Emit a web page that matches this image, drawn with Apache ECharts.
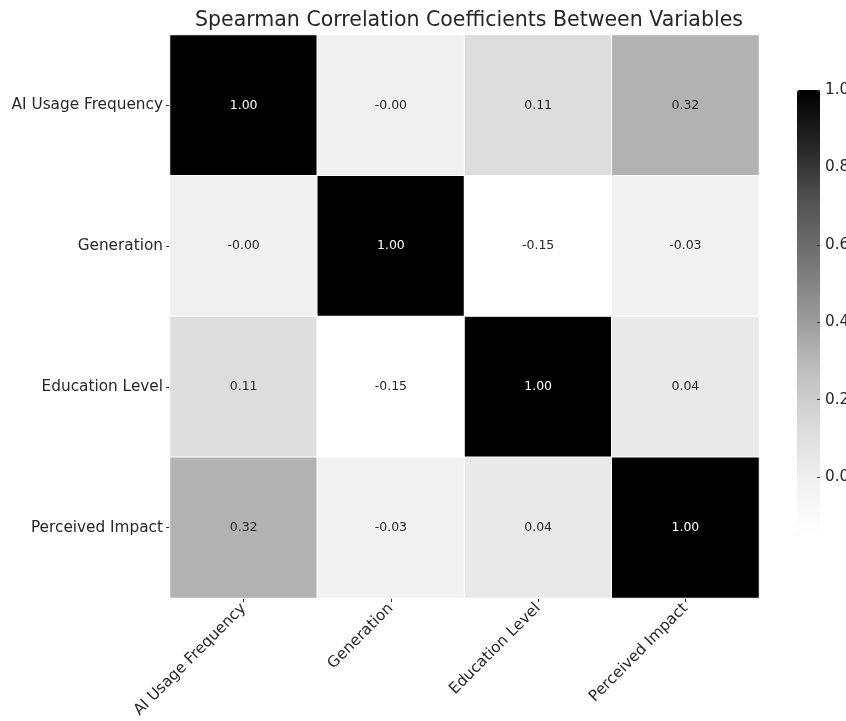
<!DOCTYPE html>
<html>
<head>
<meta charset="utf-8">
<script src="https://cdn.jsdelivr.net/npm/echarts@6/dist/echarts.min.js"></script>
<style>
  html, body { margin: 0; padding: 0; background: #fff; }
  #chart { width: 846px; height: 721px; }
</style>
</head>
<body>
<div id="chart"></div>
<script>
const variables = ["AI Usage Frequency", "Generation", "Education Level", "Perceived Impact"];
// correlation matrix rows (same order as variables); -0.004 prints as -0.00
const row0 = [1.00, -0.004, 0.11, 0.32];
const row1 = [-0.004, 1.00, -0.15, -0.03];
const row2 = [0.11, -0.15, 1.00, 0.04];
const row3 = [0.32, -0.03, 0.04, 1.00];
const matrix = [row0, row1, row2, row3];
const colorbarTicks = [0.0, 0.2, 0.4, 0.6, 0.8, 1.0];
const vMin = -0.15, vMax = 1.0;

const font = "DejaVu Sans";
const cells = [];
matrix.forEach((row, i) => {
  row.forEach((v, j) => {
    cells.push({
      value: [j, i, v],
      label: { color: v > 0.6 ? "#ffffff" : "#262626" }
    });
  });
});

const chart = echarts.init(document.getElementById("chart"));
chart.setOption({
  backgroundColor: "#fff",
  animation: false,
  title: {
    text: "Spearman Correlation Coefficients Between Variables",
    left: 464, top: 5, textAlign: "center",
    textStyle: { fontFamily: font, fontSize: 20.5, fontWeight: "normal", color: "#262626" }
  },
  grid: [
    { left: 170, right: 87, top: 35, bottom: 123, outerBoundsMode: "none" },
    { left: 797, width: 23, top: 90, height: 445, outerBoundsMode: "none" }
  ],
  xAxis: [
    {
      type: "category", data: variables, gridIndex: 0,
      axisLine: { show: false },
      axisTick: { show: true, alignWithLabel: true, length: 4, lineStyle: { color: "#333" } },
      axisLabel: { rotate: 45, fontFamily: font, fontSize: 15.3, color: "#262626", margin: 8 },
      splitLine: { show: false }
    },
    { type: "value", gridIndex: 1, show: false, min: 0, max: 1 }
  ],
  yAxis: [
    {
      type: "category", data: variables, gridIndex: 0, inverse: true,
      axisLine: { show: false },
      axisTick: { show: true, alignWithLabel: true, length: 4, lineStyle: { color: "#333" } },
      axisLabel: { fontFamily: font, fontSize: 15.3, color: "#262626", margin: 7 },
      splitLine: { show: false }
    },
    {
      type: "value", gridIndex: 1, position: "right", min: vMin, max: vMax, z: 10,
      axisLine: { show: false, onZero: false },
      axisTick: { show: true, inside: true, length: 3, customValues: colorbarTicks, lineStyle: { color: "#333" } },
      axisLabel: {
        fontFamily: font, fontSize: 15.3, color: "#262626", margin: 5,
        customValues: colorbarTicks,
        formatter: v => v.toFixed(1)
      },
      splitLine: { show: false }
    }
  ],
  visualMap: {
    type: "continuous", min: vMin, max: vMax, seriesIndex: 0,
    show: true, calculable: false, text: null, showLabel: false,
    left: 797, top: 90, itemWidth: 23, itemHeight: 445, padding: 0,
    hoverLink: false, z: 2,
    inRange: {
      color: ["#ffffff", "#f0f0f0", "#d9d9d9", "#bdbdbd", "#969696", "#737373", "#525252", "#252525", "#000000"]
    }
  },
  series: [{
    type: "heatmap",
    xAxisIndex: 0, yAxisIndex: 0,
    data: cells,
    itemStyle: { borderColor: "#fff", borderWidth: 1 },
    label: {
      show: true, fontFamily: font, fontSize: 12.5,
      formatter: p => p.value[2].toFixed(2)
    }
  }]
});
</script>
</body>
</html>
